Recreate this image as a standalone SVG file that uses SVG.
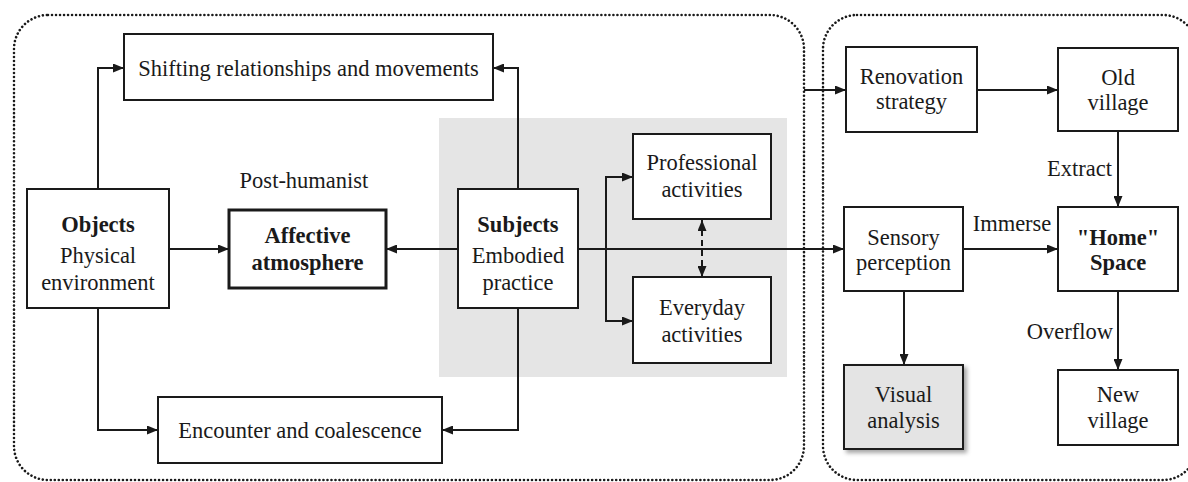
<svg xmlns="http://www.w3.org/2000/svg" width="1188" height="482" viewBox="0 0 1188 482">
<style>
.box{fill:#fff;stroke:#1a1a1a;stroke-width:2}
.thick{stroke-width:3}
.gbox{fill:#e4e4e4;stroke:#1a1a1a;stroke-width:2}
.cont{fill:none;stroke:#1a1a1a;stroke-width:2.6;stroke-dasharray:0.01 4;stroke-linecap:round}
.t{font-size:22.5px;fill:#1a1a1a;text-anchor:middle}
.b{font-weight:bold}
.lab{font-size:22.5px;fill:#1a1a1a}
.c{fill:none;stroke:#1a1a1a;stroke-width:2;marker-end:url(#ah)}
.d{fill:none;stroke:#1a1a1a;stroke-width:2;stroke-dasharray:6 4;marker-end:url(#ah);marker-start:url(#ah)}
</style>
<defs>
<marker id="ah" markerUnits="userSpaceOnUse" markerWidth="11" markerHeight="9" refX="11" refY="4.5" orient="auto-start-reverse">
<path d="M0,0 L11,4.5 L0,9 z" fill="#1a1a1a"/>
</marker>
<filter id="sh" x="-10%" y="-10%" width="130%" height="130%">
<feDropShadow dx="3" dy="3" stdDeviation="2" flood-color="#000" flood-opacity="0.35"/>
</filter>
</defs>
<rect id="left-container" class="cont" x="14" y="15" width="790" height="465" rx="34"/>
<rect id="right-container" class="cont" x="823" y="15" width="374" height="465" rx="34"/>
<rect id="gray-region" x="439" y="118" width="348" height="259" fill="#e5e5e5"/>
<g id="connectors">
<path class="c" d="M98,189 V68 H124"/>
<path class="c" d="M98,308 V430 H158"/>
<path class="c" d="M169,249 H229"/>
<path class="c" d="M458,249 H386"/>
<path class="c" d="M518,189 V68 H493"/>
<path class="c" d="M518,308 V430 H442"/>
<path class="c" d="M606,249 V177 H633"/>
<path class="c" d="M606,249 V321 H633"/>
<path class="c" d="M578,249 H844"/>
<path class="d" d="M702,220 V277"/>
<path class="c" d="M804,90 H846"/>
<path class="c" d="M977,90 H1058"/>
<path class="c" d="M1118,131 V207"/>
<path class="c" d="M963,249 H1058"/>
<path class="c" d="M904,291 V365"/>
<path class="c" d="M1118,291 V370"/>
</g>
<g font-family="Liberation Serif, Tinos, Times New Roman, serif">
<g id="shifting"><rect class="box" x="124" y="34" width="369" height="66"/><text class="t" x="308.5" y="76">Shifting relationships and movements</text></g>
<g id="post-humanist"><text class="t" x="304" y="188">Post-humanist</text></g>
<g id="objects"><rect class="box" x="27" y="189" width="142" height="119"/><text class="t b" x="98" y="232">Objects</text><text class="t" x="98" y="263">Physical</text><text class="t" x="98" y="290">environment</text></g>
<g id="affective"><rect class="box thick" x="229" y="210" width="157" height="78"/><text class="t b" x="307.5" y="243">Affective</text><text class="t b" x="307.5" y="270">atmosphere</text></g>
<g id="encounter"><rect class="box" x="158" y="397" width="284" height="66"/><text class="t" x="300" y="438">Encounter and coalescence</text></g>
<g id="subjects"><rect class="box" x="458" y="189" width="120" height="119"/><text class="t b" x="518" y="232">Subjects</text><text class="t" x="518" y="263">Embodied</text><text class="t" x="518" y="290">practice</text></g>
<g id="professional"><rect class="box" x="633" y="134" width="138" height="85"/><text class="t" x="702" y="170">Professional</text><text class="t" x="702" y="197">activities</text></g>
<g id="everyday"><rect class="box" x="633" y="277" width="138" height="86"/><text class="t" x="702" y="315">Everyday</text><text class="t" x="702" y="342">activities</text></g>
<g id="renovation"><rect class="box" x="846" y="47" width="131" height="85"/><text class="t" x="911.5" y="84">Renovation</text><text class="t" x="911.5" y="109">strategy</text></g>
<g id="old-village"><rect class="box" x="1058" y="48" width="120" height="83"/><text class="t" x="1118" y="85">Old</text><text class="t" x="1118" y="110">village</text></g>
<g id="extract-label"><text class="lab" x="1112" y="176" text-anchor="end">Extract</text></g>
<g id="sensory"><rect class="box" x="844" y="207" width="119" height="84"/><text class="t" x="903.5" y="245">Sensory</text><text class="t" x="903.5" y="270">perception</text></g>
<g id="immerse-label"><text class="t" x="1012" y="231">Immerse</text></g>
<g id="home"><rect class="box" x="1058" y="207" width="120" height="84"/><text class="t b" x="1118" y="245">"Home"</text><text class="t b" x="1118" y="270">Space</text></g>
<g id="visual"><rect class="gbox" x="844" y="365" width="119" height="84" filter="url(#sh)"/><text class="t" x="903.5" y="402">Visual</text><text class="t" x="903.5" y="428">analysis</text></g>
<g id="overflow-label"><text class="lab" x="1113" y="339" text-anchor="end">Overflow</text></g>
<g id="new-village"><rect class="box" x="1058" y="370" width="120" height="75"/><text class="t" x="1118" y="402">New</text><text class="t" x="1118" y="428">village</text></g>
</g>
</svg>
